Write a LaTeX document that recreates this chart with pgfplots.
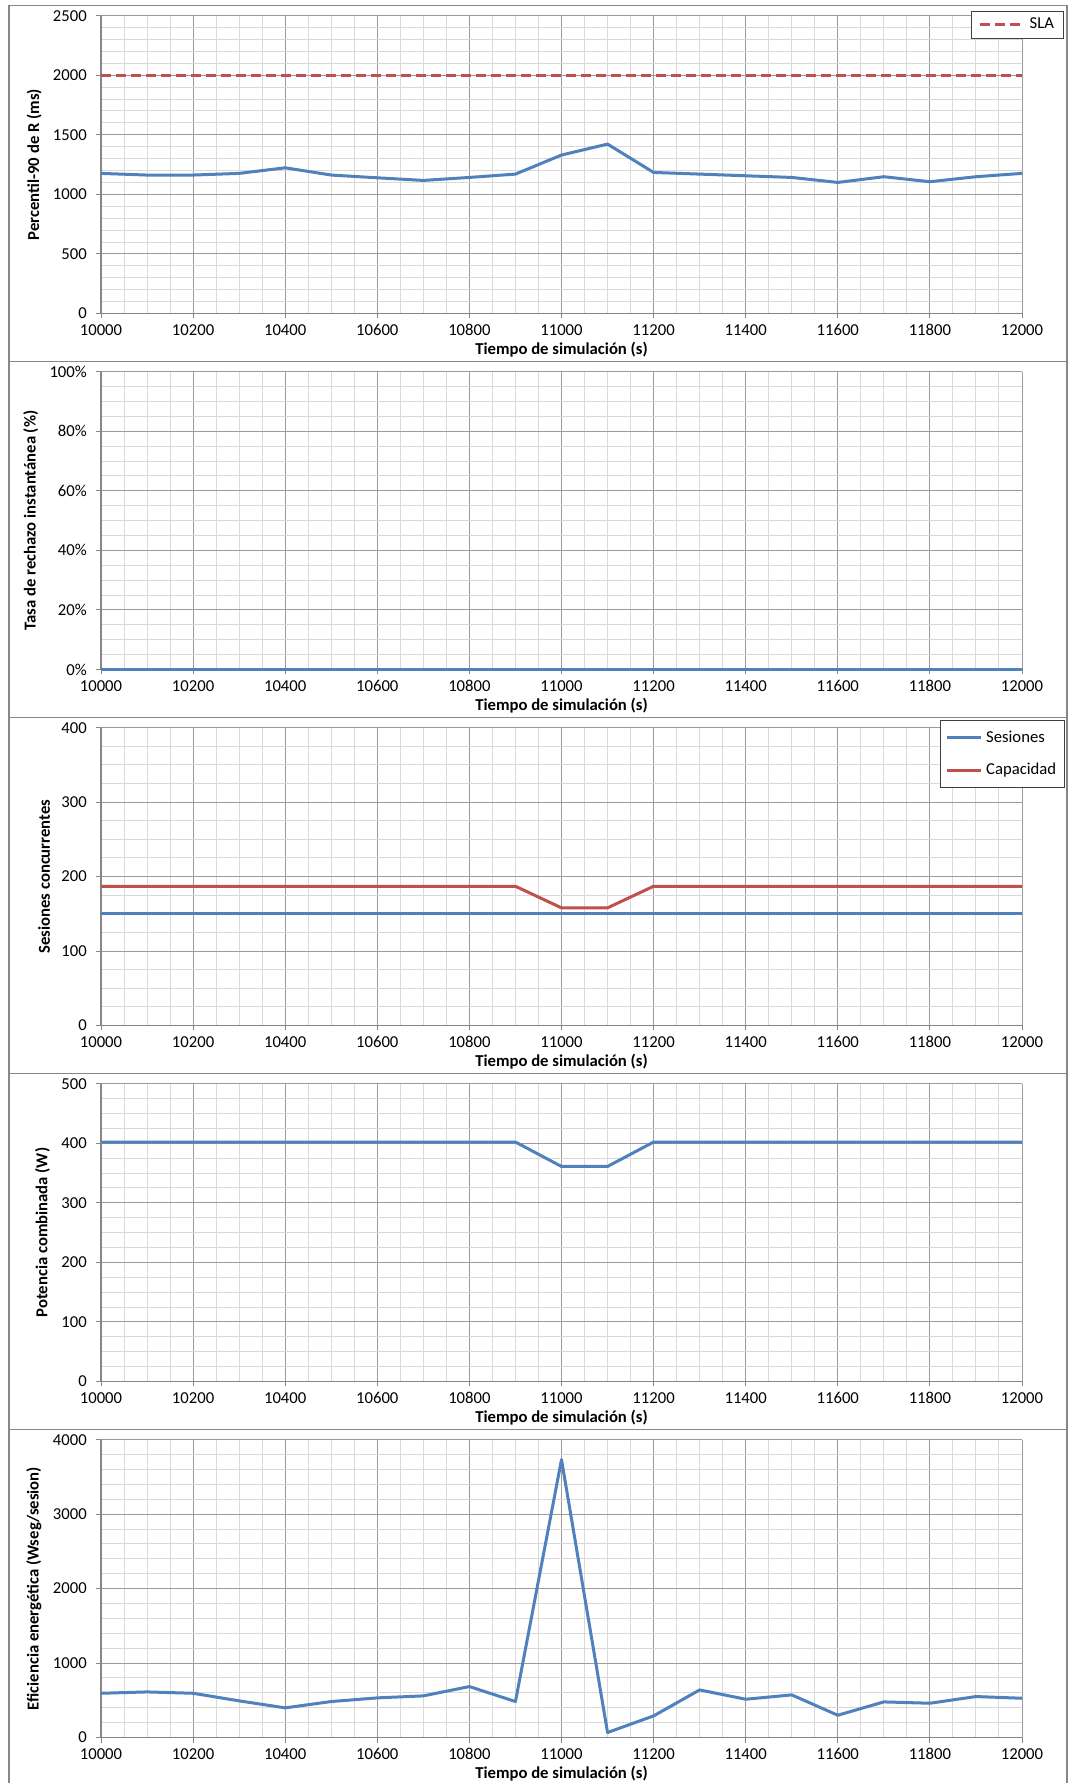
\documentclass[border=0pt]{standalone}
\usepackage{fontspec}
\setmainfont{Carlito}
\usepackage{pgfplots}
\usepackage{pgfplotstable}
\pgfplotsset{compat=1.18}

\definecolor{xlblue}{RGB}{79,129,189}
\definecolor{xlred}{RGB}{192,80,77}
\definecolor{gridmaj}{RGB}{155,155,155}
\definecolor{gridmin}{RGB}{217,217,217}
\definecolor{framegray}{RGB}{134,134,134}

% 90th percentile of response time (ms)
\pgfplotstableread{
t r
10000 1176
10100 1162
10200 1162
10300 1176
10400 1223
10500 1162
10600 1139
10700 1117
10800 1142
10900 1170
11000 1330
11100 1422
11200 1184
11300 1170
11400 1156
11500 1142
11600 1100
11700 1148
11800 1106
11900 1148
12000 1176
}\percentil

% instantaneous rejection rate (%)
\pgfplotstableread{
t r
10000 0
10100 0
10200 0
10300 0
10400 0
10500 0
10600 0
10700 0
10800 0
10900 0
11000 0
11100 0
11200 0
11300 0
11400 0
11500 0
11600 0
11700 0
11800 0
11900 0
12000 0
}\rechazo

% concurrent sessions and capacity
\pgfplotstableread{
t ses cap
10000 150 187
10100 150 187
10200 150 187
10300 150 187
10400 150 187
10500 150 187
10600 150 187
10700 150 187
10800 150 187
10900 150 187
11000 150 158
11100 150 158
11200 150 187
11300 150 187
11400 150 187
11500 150 187
11600 150 187
11700 150 187
11800 150 187
11900 150 187
12000 150 187
}\sesiones

% combined power (W)
\pgfplotstableread{
t p
10000 402
10100 402
10200 402
10300 402
10400 402
10500 402
10600 402
10700 402
10800 402
10900 402
11000 361
11100 361
11200 402
11300 402
11400 402
11500 402
11600 402
11700 402
11800 402
11900 402
12000 402
}\potencia

% energy efficiency (W s / session)
\pgfplotstableread{
t e
10000 594
10100 612
10200 594
10300 492
10400 398
10500 483
10600 532
10700 559
10800 684
10900 483
11000 3732
11100 67
11200 290
11300 639
11400 514
11500 572
11600 299
11700 478
11800 460
11900 550
12000 527
}\eficiencia

\pgfplotsset{
  panel/.style={
    at={(60.6pt,#1)}, anchor=south west,
    scale only axis, width=552.6pt, height=178.7pt,
    xmin=10000, xmax=12000,
    xtick={10000,10200,...,12000}, minor x tick num=3,
    scaled ticks=false,
    ymin=0,
    grid=both,
    major grid style={gridmaj, line width=0.6pt},
    minor grid style={gridmin, line width=0.6pt},
    axis x line*=bottom, axis y line*=left,
    axis line style={framegray, line width=0.8pt, -},
    tick align=outside, major tick length=3pt, minor tick length=0pt,
    tick style={framegray, line width=0.6pt},
    /pgf/number format/assume math mode=true,
    /pgf/number format/1000 sep={},
    tick label style={font=\fontsize{10}{12}\selectfont, text=black},
    yticklabel style={xshift=-2pt},
    xlabel={Tiempo de simulación (s)},
    xlabel style={font=\fontsize{10}{12}\selectfont\bfseries,
      at={(axis description cs:0.5,0)}, anchor=center, yshift=-21.9pt},
    ylabel style={font=\fontsize{10}{12}\selectfont\bfseries},
    every axis plot/.append style={line width=1.8pt, line join=round},
    legend style={font=\fontsize{10}{12}\selectfont, draw=black!75,
      line width=0.6pt, legend cell align=left},
  },
}

\begin{document}
\begin{tikzpicture}[x=0.6pt, y=0.6pt]
\useasboundingbox (0,0) rectangle (1068,1783);
\fill[white] (0,0) rectangle (1068,1783);

% chart area frames
\foreach \k in {0,...,4} {
  \draw[framegray, line width=0.9pt]
    (9,{1421.3-356*\k}) rectangle (1067,{1777.3-356*\k});
}

% response time
\begin{axis}[panel=881.7pt, ymax=2500, ytick={0,500,...,2500}, minor y tick num=4,
  ylabel={Percentil-90 de R (ms)},
  legend style={at={(1.0461,1.0158)}, anchor=north east, inner xsep=4pt},
  legend image code/.code={\draw[#1] (0pt,0pt) -- (27pt,0pt);}]
\addplot[xlblue, forget plot] table[x=t, y=r] {\percentil};
\addplot[xlred, dash pattern=on 6pt off 3pt] coordinates {(10000,2000) (12000,2000)};
\addlegendentry{SLA}
\end{axis}

% rejection rate
\begin{axis}[panel=668.1pt, ymax=100, ytick={0,20,...,100}, minor y tick num=3,
  yticklabel={\pgfmathprintnumber{\tick}\%}, clip=false,
  ylabel={Tasa de rechazo instantánea (\%)}]
\addplot[xlblue] table[x=t, y=r] {\rechazo};
\end{axis}

% sessions vs capacity
\begin{axis}[panel=454.5pt, ymax=400, ytick={0,100,...,400}, minor y tick num=3,
  ylabel={Sesiones concurrentes},
  legend style={at={(1.0467,1.0245)}, anchor=north east, row sep=7pt, inner ysep=4pt},
  legend image code/.code={\draw[#1] (0pt,0pt) -- (20.6pt,0pt);}]
\addplot[xlblue] table[x=t, y=ses] {\sesiones};
\addlegendentry{Sesiones}
\addplot[xlred] table[x=t, y=cap] {\sesiones};
\addlegendentry{Capacidad}
\end{axis}

% combined power
\begin{axis}[panel=240.9pt, ymax=500, ytick={0,100,...,500}, minor y tick num=3,
  ylabel={Potencia combinada (W)}]
\addplot[xlblue] table[x=t, y=p] {\potencia};
\end{axis}

% energy efficiency
\begin{axis}[panel=27.3pt, ymax=4000, ytick={0,1000,...,4000}, minor y tick num=4,
  ylabel={Eficiencia energética (Wseg/sesion)}]
\addplot[xlblue] table[x=t, y=e] {\eficiencia};
\end{axis}
\end{tikzpicture}
\end{document}
